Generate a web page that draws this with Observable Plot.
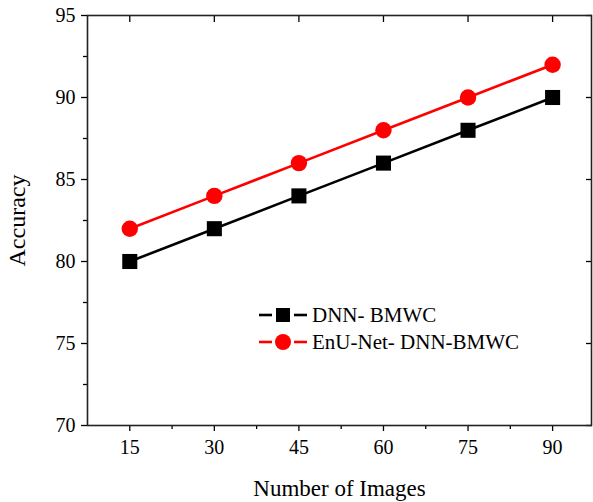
<!DOCTYPE html>
<html><head><meta charset="utf-8">
<script src="https://cdn.jsdelivr.net/npm/d3@7"></script>
<script src="https://cdn.jsdelivr.net/npm/@observablehq/plot@0.6"></script>
<style>
body{margin:0;background:#fff;}
#chart{position:relative;width:593px;height:502px;}
</style></head>
<body><div id="chart"></div>
<script>
const images = [15, 30, 45, 60, 75, 90];
const dnnBMWC = [80, 82, 84, 86, 88, 90];
const enuNet = [82, 84, 86, 88, 90, 92];
const seriesNames = ["DNN- BMWC", "EnU-Net- DNN-BMWC"];
const seriesColors = ["#000000", "#ff0000"];
const xTicks = [15, 30, 45, 60, 75, 90];
const xMinor = [22.5, 37.5, 52.5, 67.5, 82.5];
const yTicks = [70, 75, 80, 85, 90, 95];
const yMinor = [72.5, 77.5, 82.5, 87.5, 92.5];

const rows1 = images.map((x, i) => ({x, y: dnnBMWC[i]}));
const rows2 = images.map((x, i) => ({x, y: enuNet[i]}));
const font = "Liberation Serif, Times New Roman, serif";

const legend = seriesNames.map((name, i) => ({name, color: seriesColors[i], i}));

const plot = Plot.plot({
  width: 593, height: 502,
  marginLeft: 87, marginRight: 2, marginTop: 15, marginBottom: 77,
  style: {fontFamily: font, fontSize: "20px", color: "#000", background: "#fff"},
  x: {domain: [7.5, 96.9], label: null},
  y: {domain: [70, 95], label: null},
  marks: [
    Plot.axisX({ticks: xTicks, tickSize: 6, tickPadding: 8, fontSize: 20, tickFormat: d => d, strokeWidth: 1.3}),
    Plot.axisX({ticks: xMinor, tickSize: 4, text: null, strokeWidth: 1.3}),
    Plot.axisX({anchor: "top", ticks: xTicks, tickSize: -6, text: null, strokeWidth: 1.3}),
    Plot.axisY({ticks: yTicks, tickSize: 6, tickPadding: 6, fontSize: 20, tickFormat: d => d, strokeWidth: 1.3}),
    Plot.axisY({ticks: yMinor, tickSize: 4, text: null, strokeWidth: 1.3}),
    Plot.axisY({anchor: "right", ticks: yTicks, tickSize: -6, text: null, strokeWidth: 1.3}),
    Plot.frame({stroke: "#222", strokeWidth: 1.6}),
    Plot.line(rows1, {x: "x", y: "y", stroke: seriesColors[0], strokeWidth: 2.6}),
    Plot.dot(rows1, {x: "x", y: "y", symbol: "square", r: 8.5, fill: seriesColors[0], stroke: "none"}),
    Plot.line(rows2, {x: "x", y: "y", stroke: seriesColors[1], strokeWidth: 2.6}),
    Plot.dot(rows2, {x: "x", y: "y", symbol: "circle", r: 8.2, fill: seriesColors[1], stroke: "none"}),
    Plot.axisX({anchor: "bottom", ticks: [], label: "Number of Images", labelAnchor: "center", labelArrow: "none", labelOffset: 70, fontSize: 23}),
    Plot.axisY({anchor: "left", ticks: [], label: "Accuracy", labelAnchor: "center", labelArrow: "none", labelOffset: 80, fontSize: 24})
  ]
});
document.getElementById("chart").appendChild(plot);

// legend overlay drawn with d3 inside the plot svg
const svg = d3.select(plot);
const lg = svg.append("g").attr("font-family", font).attr("font-size", 21).attr("text-anchor", "start");
legend.forEach((d, i) => {
  const cy = 315 + i * 27;
  [[259, 272], [294, 307]].forEach(([a, b]) => {
    lg.append("line").attr("x1", a).attr("x2", b).attr("y1", cy).attr("y2", cy)
      .attr("stroke", d.color).attr("stroke-width", 2.6);
  });
  if (i === 0) {
    lg.append("rect").attr("x", 276).attr("y", cy - 7).attr("width", 14).attr("height", 14).attr("fill", d.color);
  } else {
    lg.append("circle").attr("cx", 283).attr("cy", cy).attr("r", 8).attr("fill", d.color);
  }
  lg.append("text").attr("x", 312).attr("y", cy).attr("dy", "0.35em").text(d.name);
});
</script>
</body></html>
